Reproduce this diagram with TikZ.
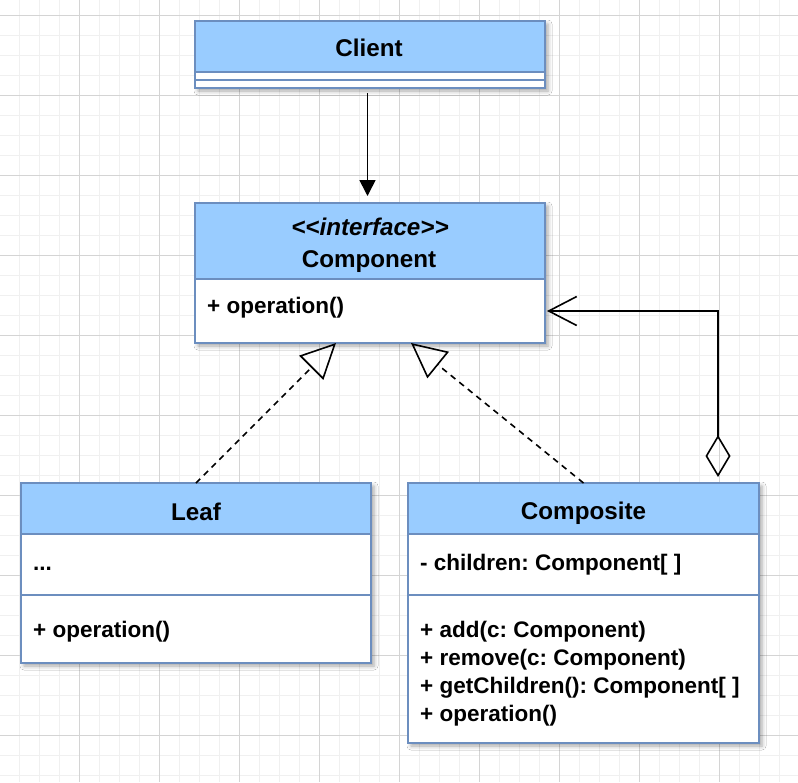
\documentclass[tikz,border=0pt]{standalone}
\usepackage{fontspec}
\setmainfont{Liberation Sans}
\usetikzlibrary{arrows.meta,shadows.blur,calc}
\definecolor{hblue}{HTML}{99CCFF}
\definecolor{bord}{HTML}{6C8EBF}
\definecolor{gminor}{HTML}{F0F0F0}
\definecolor{gmajor}{HTML}{D4D4D4}
\frenchspacing
\begin{document}
\begin{tikzpicture}[x=1pt,y=-1pt,
  box/.style={draw=bord,line width=1.3pt,fill=white,anchor=north west,inner sep=0pt,outer sep=0pt,
    blur shadow={shadow xshift=3pt,shadow yshift=-3pt,shadow blur radius=4pt,shadow opacity=35}},
  hdr/.style={draw=bord,line width=1.3pt,fill=hblue,anchor=north west,inner sep=0pt,outer sep=0pt},
  title/.style={anchor=base,font=\bfseries\fontsize{24.2}{28}\selectfont,inner sep=0pt},
  member/.style={anchor=base west,font=\bfseries\fontsize{22.5}{26}\selectfont,inner sep=0pt},
  sepline/.style={draw=bord,line width=1.3pt},
  conn/.style={line width=1.6pt,draw=black},
  realize/.style={conn,dash pattern=on 6pt off 5pt,-{Triangle[open,length=35pt,width=34pt,line width=1.6pt]}}
]
\useasboundingbox (0,0) rectangle (798,782);
\fill[white] (0,0) rectangle (798,782);
% grid
\foreach \x in {19,39,...,799} \draw[gminor,line width=1pt] (\x,0) -- (\x,782);
\foreach \y in {15,35,...,775} \draw[gminor,line width=1pt] (0,\y) -- (798,\y);
\foreach \x in {79,159,...,799} \draw[gmajor,line width=1pt] (\x,0) -- (\x,782);
\foreach \y in {15,95,...,775} \draw[gmajor,line width=1pt] (0,\y) -- (798,\y);

% Client
\node[box,minimum width=350pt,minimum height=67pt] (client) at (195,21) {};
\node[hdr,minimum width=350pt,minimum height=51pt] (clienthdr) at (195,21) {};
\draw[sepline] (195,80) -- (545,80);
\node[title] (clientt) at (369,56.5) {Client};

% Component
\node[box,minimum width=350pt,minimum height=140pt] (comp) at (195,203) {};
\node[hdr,minimum width=350pt,minimum height=76pt] (comphdr) at (195,203) {};
\node[title,font=\bfseries\itshape\fontsize{24.2}{28}\selectfont] (stereo) at (370,235) {<\kern0pt<interface>\kern0pt>};
\node[title] (compt) at (369,267) {Component};
\node[member] (compop) at (207,313) {+ operation()};

% Leaf
\node[box,minimum width=350pt,minimum height=180pt] (leaf) at (21,483) {};
\node[hdr,minimum width=350pt,minimum height=51pt] (leafhdr) at (21,483) {};
\draw[sepline] (21,595) -- (371,595);
\node[title] (leaft) at (196,520) {Leaf};
\node[member] (leafattr) at (33,570) {...};
\node[member] (leafop) at (33,637) {+ operation()};

% Composite
\node[box,minimum width=351pt,minimum height=260pt] (composite) at (408,483) {};
\node[hdr,minimum width=351pt,minimum height=51pt] (compositehdr) at (408,483) {};
\draw[sepline] (408,595) -- (759,595);
\node[title] (compositet) at (583.5,519.5) {Composite};
\node[member] (children) at (420,570) {- children: Component[ ]};
\node[member] (madd) at (420,637) {+ add(c: Component)};
\node[member] (mremove) at (420,665) {+ remove(c: Component)};
\node[member] (mget) at (420,693) {+ getChildren(): Component[ ]};
\node[member] (mop) at (420,721) {+ operation()};

% connectors
\draw[conn,-{Triangle[length=16pt,width=16pt]},shorten <=5pt,shorten >=7pt] ([xshift=-2.5pt]client.south) -- ([xshift=-2.5pt]comp.north);
\coordinate (r1) at ($(comp.south)+(-34,0)$);
\coordinate (r2) at ($(comp.south)+(41,0)$);
\draw[realize] (leafhdr.north) -- (r1);
\draw[realize] (compositehdr.north) -- (r2);
\coordinate (aggs) at ($(composite.north east)+(-41,-6)$);
\coordinate (aggt) at ($(comp.south east)+(2,-32)$);
\draw[conn,{Diamond[open,length=42pt,width=25pt,line width=1.6pt]}-{Straight Barb[length=28pt,width=29pt,line width=1.6pt]}] (aggs) |- (aggt);
\end{tikzpicture}
\end{document}
